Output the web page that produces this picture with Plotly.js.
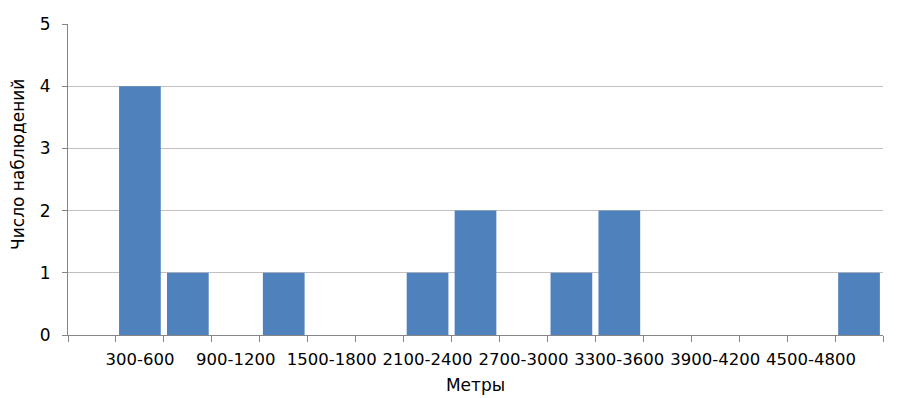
<!DOCTYPE html>
<html>
<head>
<meta charset="utf-8">
<script src="https://cdn.plot.ly/plotly-3.0.1.min.js"></script>
<style>body{margin:0;padding:0;background:#fff;}#chart{width:900px;height:398px;}</style>
</head>
<body>
<div id="chart"></div>
<script>
const categories = ["0-300","300-600","600-900","900-1200","1200-1500","1500-1800","1800-2100","2100-2400","2400-2700","2700-3000","3000-3300","3300-3600","3600-3900","3900-4200","4200-4500","4500-4800","4800-5100"];
const counts = [0,4,1,0,1,0,0,1,2,0,1,2,0,0,0,0,1];
const shownLabels = ["300-600","900-1200","1500-1800","2100-2400","2700-3000","3300-3600","3900-4200","4500-4800"];
const xTitle = "Метры";
const yTitle = "Число наблюдений";

const tickText = categories.map(c => shownLabels.includes(c) ? c : "");
const font = "DejaVu Sans, Verdana, sans-serif";

Plotly.newPlot("chart", [{
  type: "bar",
  x: categories,
  y: counts,
  marker: {color: "#4f81bd", line: {width: 0}},
  hoverinfo: "x+y"
}], {
  width: 900, height: 398,
  margin: {l: 68, r: 17, t: 24, b: 63},
  paper_bgcolor: "#ffffff", plot_bgcolor: "#ffffff",
  bargap: 0.13,
  showlegend: false,
  font: {family: font, size: 17, color: "#000"},
  xaxis: {
    type: "category",
    categoryorder: "array", categoryarray: categories,
    tickmode: "array", tickvals: categories, ticktext: tickText,
    tickson: "boundaries",
    ticks: "outside", ticklen: 6, tickcolor: "#868686",
    showline: true, linecolor: "#868686", linewidth: 1,
    showgrid: false, zeroline: false,
    tickangle: 0,
    ticklabelstandoff: 9,
    tickfont: {family: font, size: 16.5, color: "#000"},
    title: {text: xTitle, font: {family: font, size: 17, color: "#000"}, standoff: 11}
  },
  yaxis: {
    range: [0, 5], dtick: 1, tick0: 0,
    ticks: "outside", ticklen: 5, tickcolor: "#868686",
    showline: true, linecolor: "#868686", linewidth: 1,
    showgrid: true, gridcolor: "#c0c0c0", gridwidth: 1,
    zeroline: false,
    ticklabelstandoff: 8,
    tickfont: {family: font, size: 17, color: "#000"}
  },
  annotations: [{
    text: yTitle, textangle: -90, showarrow: false,
    xref: "paper", yref: "paper", x: -0.0613, y: 0.547,
    xanchor: "center", yanchor: "middle",
    font: {family: font, size: 17, color: "#000"}
  }]
}, {displayModeBar: false, staticPlot: true});
</script>
</body>
</html>
